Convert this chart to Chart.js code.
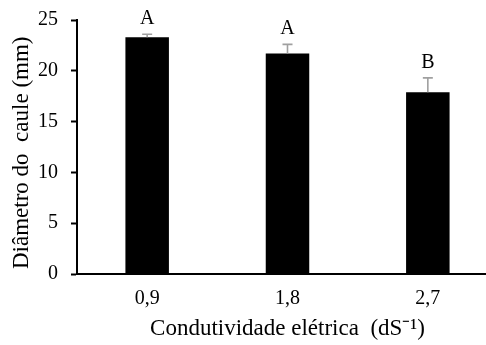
<!DOCTYPE html>
<html>
<head>
<meta charset="utf-8">
<script src="https://cdn.jsdelivr.net/npm/chart.js@4"></script>
<style>
  html, body { margin: 0; padding: 0; background: #fff; overflow: hidden; }
  #wrap { width: 498px; height: 345px; position: relative; }
</style>
</head>
<body>
<div id="wrap"><canvas id="c"></canvas></div>
<script>
// Stem diameter by electrical conductivity level
const categories = ['0,9', '1,8', '2,7'];
const diameters = [23.3, 21.7, 17.9];
const errors = [0.3, 0.9, 1.4];
const letters = ['A', 'A', 'B'];
const yTicks = [0, 5, 10, 15, 20, 25];

const serif = "'Liberation Serif', 'Times New Roman', serif";

// Upper error whiskers and significance letters above each bar
const barAnnotations = {
  id: 'barAnnotations',
  afterDatasetsDraw(chart) {
    const ctx = chart.ctx;
    const x = chart.scales.x;
    const y = chart.scales.y;
    ctx.save();
    diameters.forEach((v, i) => {
      const cx = x.getPixelForValue(i);
      const yTop = y.getPixelForValue(v);
      const yErr = y.getPixelForValue(v + errors[i]);
      ctx.strokeStyle = '#a0a0a0';
      ctx.lineWidth = 1.6;
      ctx.beginPath();
      ctx.moveTo(cx, yTop);
      ctx.lineTo(cx, yErr);
      ctx.moveTo(cx - 5, yErr);
      ctx.lineTo(cx + 5, yErr);
      ctx.stroke();
      ctx.fillStyle = '#000';
      ctx.font = "20px " + serif;
      ctx.textAlign = 'center';
      ctx.textBaseline = 'alphabetic';
      ctx.fillText(letters[i], cx, yErr - 10);
    });
    ctx.restore();
  }
};

new Chart(document.getElementById('c'), {
  type: 'bar',
  data: {
    labels: categories,
    datasets: [{
      data: diameters,
      backgroundColor: '#000',
      borderWidth: 0,
      barPercentage: 0.62,
      categoryPercentage: 0.5
    }]
  },
  options: {
    responsive: true,
    maintainAspectRatio: false,
    animation: false,
    layout: { padding: { left: 0, right: 0, top: 0, bottom: 0 } },
    plugins: {
      legend: { display: false },
      tooltip: { enabled: false }
    },
    scales: {
      x: {
        grid: { display: false, drawTicks: false },
        border: { color: '#000', width: 2 },
        ticks: { color: '#000', font: { family: serif, size: 20 }, padding: 13 },
        title: {
          display: true,
          text: 'Condutividade elétrica  (dS⁻¹)',
          color: '#000',
          font: { family: serif, size: 23, lineHeight: 1 },
          padding: { top: -6.5, bottom: 4.5 }
        }
      },
      y: {
        min: 0,
        max: 25,
        afterBuildTicks(scale) {
          scale.ticks = yTicks.map(v => ({ value: v }));
        },
        grid: { drawOnChartArea: false, drawTicks: true, tickLength: 6, tickWidth: 2, color: '#000' },
        border: { color: '#000', width: 2 },
        ticks: { color: '#000', font: { family: serif, size: 20, lineHeight: 0.7 }, padding: 13 },
        title: {
          display: true,
          text: 'Diâmetro do  caule (mm)  ',
          color: '#000',
          font: { family: serif, size: 23, lineHeight: 1 },
          padding: { top: 10.5, bottom: -8.5 }
        }
      }
    }
  },
  plugins: [barAnnotations]
});
</script>
</body>
</html>
